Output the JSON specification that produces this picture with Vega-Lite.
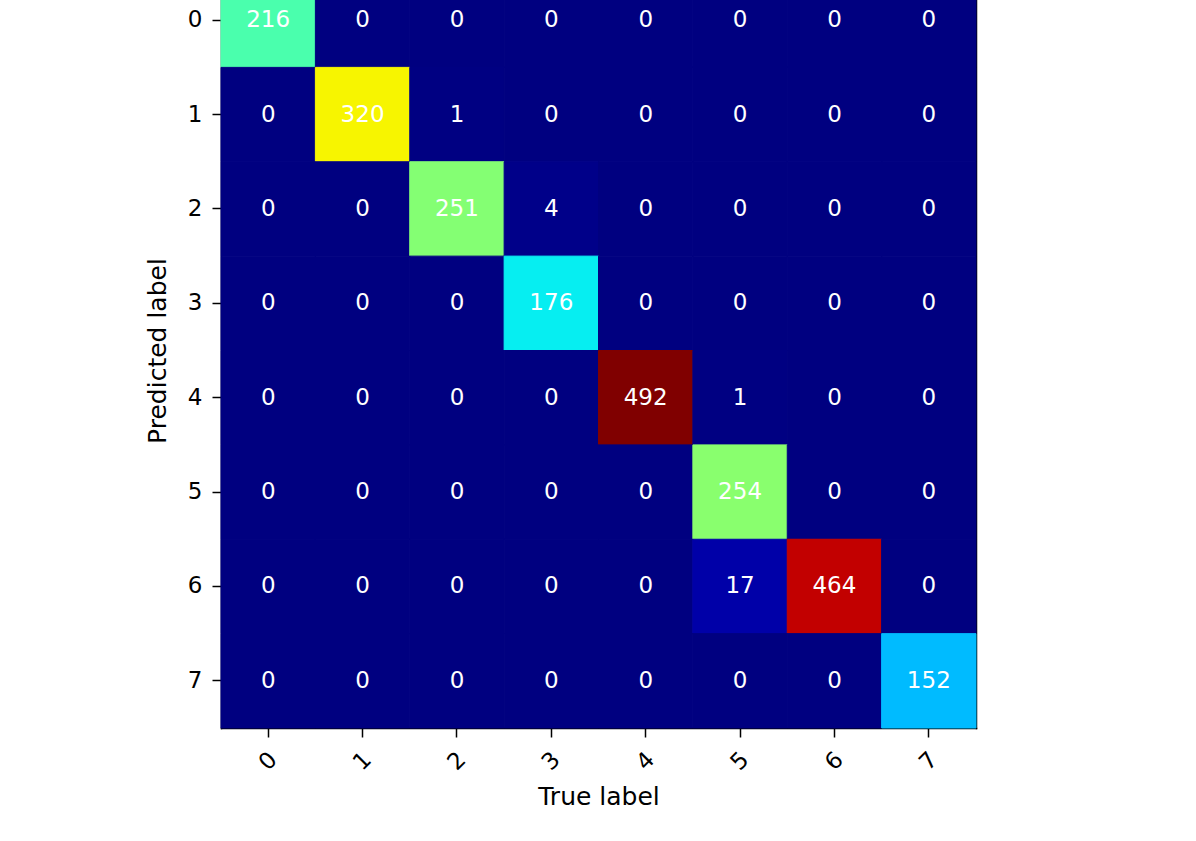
{
  "$schema": "https://vega.github.io/schema/vega-lite/v6.json",
  "width": 755,
  "height": 755,
  "autosize": {"type": "none"},
  "padding": {"left": 221, "top": -27, "right": 220, "bottom": 113},
  "background": "white",
  "config": {
    "view": {"stroke": null},
    "axis": {
      "labelFont": "DejaVu Sans",
      "labelFontSize": 23,
      "labelColor": "black",
      "titleFont": "DejaVu Sans",
      "titleFontSize": 25,
      "titleFontWeight": "normal",
      "titleColor": "black",
      "tickColor": "black",
      "tickSize": 9,
      "tickWidth": 1.5,
      "domain": true,
      "domainColor": "black",
      "domainWidth": 1.5,
      "domainCap": "square",
      "grid": false,
      "zindex": 1
    }
  },
  "data": {
    "values": [
      {"pred": 0, "true": 0, "count": 216}, {"pred": 0, "true": 1, "count": 0}, {"pred": 0, "true": 2, "count": 0}, {"pred": 0, "true": 3, "count": 0}, {"pred": 0, "true": 4, "count": 0}, {"pred": 0, "true": 5, "count": 0}, {"pred": 0, "true": 6, "count": 0}, {"pred": 0, "true": 7, "count": 0},
      {"pred": 1, "true": 0, "count": 0}, {"pred": 1, "true": 1, "count": 320}, {"pred": 1, "true": 2, "count": 1}, {"pred": 1, "true": 3, "count": 0}, {"pred": 1, "true": 4, "count": 0}, {"pred": 1, "true": 5, "count": 0}, {"pred": 1, "true": 6, "count": 0}, {"pred": 1, "true": 7, "count": 0},
      {"pred": 2, "true": 0, "count": 0}, {"pred": 2, "true": 1, "count": 0}, {"pred": 2, "true": 2, "count": 251}, {"pred": 2, "true": 3, "count": 4}, {"pred": 2, "true": 4, "count": 0}, {"pred": 2, "true": 5, "count": 0}, {"pred": 2, "true": 6, "count": 0}, {"pred": 2, "true": 7, "count": 0},
      {"pred": 3, "true": 0, "count": 0}, {"pred": 3, "true": 1, "count": 0}, {"pred": 3, "true": 2, "count": 0}, {"pred": 3, "true": 3, "count": 176}, {"pred": 3, "true": 4, "count": 0}, {"pred": 3, "true": 5, "count": 0}, {"pred": 3, "true": 6, "count": 0}, {"pred": 3, "true": 7, "count": 0},
      {"pred": 4, "true": 0, "count": 0}, {"pred": 4, "true": 1, "count": 0}, {"pred": 4, "true": 2, "count": 0}, {"pred": 4, "true": 3, "count": 0}, {"pred": 4, "true": 4, "count": 492}, {"pred": 4, "true": 5, "count": 1}, {"pred": 4, "true": 6, "count": 0}, {"pred": 4, "true": 7, "count": 0},
      {"pred": 5, "true": 0, "count": 0}, {"pred": 5, "true": 1, "count": 0}, {"pred": 5, "true": 2, "count": 0}, {"pred": 5, "true": 3, "count": 0}, {"pred": 5, "true": 4, "count": 0}, {"pred": 5, "true": 5, "count": 254}, {"pred": 5, "true": 6, "count": 0}, {"pred": 5, "true": 7, "count": 0},
      {"pred": 6, "true": 0, "count": 0}, {"pred": 6, "true": 1, "count": 0}, {"pred": 6, "true": 2, "count": 0}, {"pred": 6, "true": 3, "count": 0}, {"pred": 6, "true": 4, "count": 0}, {"pred": 6, "true": 5, "count": 17}, {"pred": 6, "true": 6, "count": 464}, {"pred": 6, "true": 7, "count": 0},
      {"pred": 7, "true": 0, "count": 0}, {"pred": 7, "true": 1, "count": 0}, {"pred": 7, "true": 2, "count": 0}, {"pred": 7, "true": 3, "count": 0}, {"pred": 7, "true": 4, "count": 0}, {"pred": 7, "true": 5, "count": 0}, {"pred": 7, "true": 6, "count": 0}, {"pred": 7, "true": 7, "count": 152}
    ]
  },
  "resolve": {"axis": {"x": "independent", "y": "independent"}},
  "layer": [
    {
      "mark": {"type": "rect", "strokeWidth": 1},
      "encoding": {
        "x": {
          "field": "true", "type": "ordinal", "title": "True label",
          "scale": {"paddingInner": 0, "paddingOuter": 0},
          "axis": {"orient": "bottom", "labelAngle": -45, "labelAlign": "center", "labelBaseline": "middle", "labelPadding": 24, "titlePadding": 10}
        },
        "y": {
          "field": "pred", "type": "ordinal", "title": "Predicted label",
          "scale": {"paddingInner": 0, "paddingOuter": 0},
          "axis": {"orient": "left", "labelAngle": 0, "labelPadding": 10, "titlePadding": 17}
        },
        "color": {
          "field": "count", "type": "quantitative", "legend": null,
          "scale": {
            "type": "linear",
            "interpolate": "rgb",
            "domain": [0, 54.12, 61.5, 167.28, 172.2, 184.5, 314.88, 319.8, 324.72, 437.88, 447.72, 492],
            "range": ["#000080", "#0000ff", "#0000ff", "#00dbff", "#00e6f7", "#15ffe2", "#efff08", "#f7f500", "#ffec00", "#ff1300", "#e80000", "#800000"]
          }
        },
        "stroke": {
          "field": "count", "type": "quantitative", "legend": null,
          "scale": {
            "type": "linear",
            "interpolate": "rgb",
            "domain": [0, 54.12, 61.5, 167.28, 172.2, 184.5, 314.88, 319.8, 324.72, 437.88, 447.72, 492],
            "range": ["#000080", "#0000ff", "#0000ff", "#00dbff", "#00e6f7", "#15ffe2", "#efff08", "#f7f500", "#ffec00", "#ff1300", "#e80000", "#800000"]
          }
        }
      }
    },
    {
      "mark": {"type": "text", "font": "DejaVu Sans", "fontSize": 23, "color": "white", "baseline": "middle", "align": "center"},
      "encoding": {
        "x": {
          "field": "true", "type": "ordinal",
          "axis": {"orient": "top", "labels": false, "ticks": false, "title": null}
        },
        "y": {
          "field": "pred", "type": "ordinal",
          "axis": {"orient": "right", "labels": false, "ticks": false, "title": null}
        },
        "text": {"field": "count", "type": "quantitative"}
      }
    }
  ]
}
